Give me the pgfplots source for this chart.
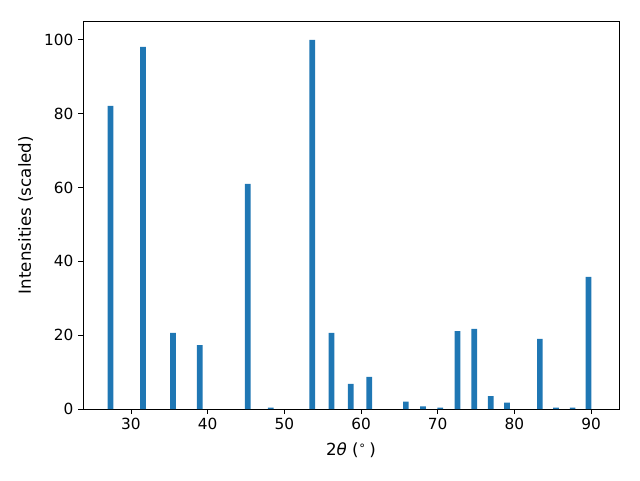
\documentclass[border=0pt]{standalone}
\usepackage{fontspec}
\setmainfont{DejaVu Sans}
\usepackage{pgfplots}
\pgfplotsset{compat=1.18}
\definecolor{mplblue}{HTML}{1F77B4}
\begin{document}
\begin{tikzpicture}
\begin{axis}[
  at={(0,0)}, anchor=south west,
  scale only axis,
  width=402pt, height=291pt,
  xmin=23.74, xmax=93.65,
  ymin=0, ymax=105.1,
  xtick={30,40,50,60,70,80,90},
  ytick={0,20,40,60,80,100},
  tick align=outside,
  tick pos=left,
  major tick length=3.6pt,
  tick style={black, line width=0.6pt},
  axis line style={line width=0.6pt},
  /pgf/number format/assume math mode=true,
  ticklabel style={font=\fontsize{11.5}{13}\selectfont},
  label style={font=\fontsize{12.5}{14}\selectfont},
  xlabel={2\textit{θ} (\textsuperscript{∘}\,)},
  ylabel={Intensities (scaled)},
  xlabel style={yshift=-2.5pt},
  ylabel style={yshift=1.5pt},
  ybar, bar width=0.74,
]
\addplot[fill=mplblue, draw=none] coordinates {
(27.32,82.1) (31.57,98.1) (35.48,20.6) (38.96,17.3) (45.23,61.0)
(48.22,0.35) (53.64,100) (56.16,20.6) (58.67,6.8) (61.07,8.7)
(65.85,2.0) (68.09,0.7) (70.34,0.35) (72.59,21.1) (74.77,21.7)
(76.93,3.5) (79.05,1.7) (83.33,19.0) (85.43,0.35) (87.6,0.35) (89.68,35.8)
};
\end{axis}
\path[use as bounding box] (-62.25pt,-53.25pt) rectangle (417.75pt,306.75pt);
\end{tikzpicture}
\end{document}
